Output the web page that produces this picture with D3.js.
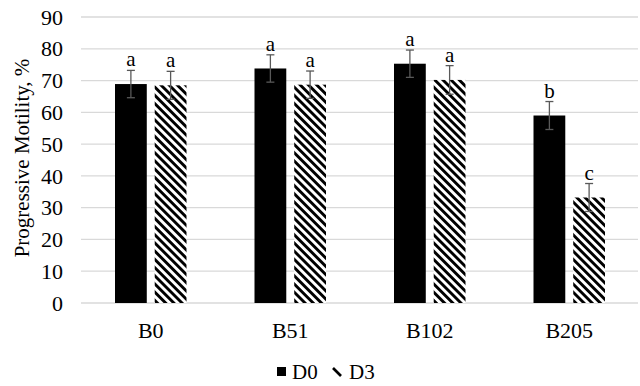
<!DOCTYPE html>
<html>
<head>
<meta charset="utf-8">
<script src="https://cdn.jsdelivr.net/npm/d3@7"></script>
<style>
    body { margin: 0; background: #fff; }
    text { font-family: "Liberation Serif", "Times New Roman", serif; fill: #000; }
</style>
</head>
<body>
<div id="chart"></div>
<script>
const categories = ["B0", "B51", "B102", "B205"];
const seriesNames = ["D0", "D3"];
const d0Values = [68.9, 73.8, 75.3, 59.0];
const d3Values = [68.5, 68.7, 70.2, 33.2];
const d0Errors = [4.3, 4.3, 4.3, 4.4];
const d3Errors = [4.4, 4.3, 4.5, 4.4];
const d0Letters = ["a", "a", "a", "b"];
const d3Letters = ["a", "a", "a", "c"];
const yTicks = [0, 10, 20, 30, 40, 50, 60, 70, 80, 90];

const WIDTH = 640;
const HEIGHT = 386;
const MARGINS = { top: 17, right: 1, bottom: 83, left: 81 };

const svg = d3.select("#chart").append("svg")
    .attr("width", WIDTH)
    .attr("height", HEIGHT);

// Hatch pattern for D3
const defs = svg.append("defs");
defs.append("pattern")
    .attr("id", "hatch")
    .attr("patternUnits", "userSpaceOnUse")
    .attr("width", 5.8)
    .attr("height", 5.8)
    .attr("patternTransform", "rotate(-45)")
    .call(p => p.append("rect").attr("width", 5.8).attr("height", 5.8).attr("fill", "#fff"))
    .call(p => p.append("rect").attr("width", 2.9).attr("height", 5.8).attr("fill", "#000"));

const xScale = d3.scaleBand()
    .domain(categories)
    .range([MARGINS.left, WIDTH - MARGINS.right])
    .paddingInner(0)
    .paddingOuter(0);

const xSub = d3.scaleBand()
    .domain(seriesNames)
    .range([34, xScale.bandwidth() - 34])
    .paddingInner(0.2);

const yScale = d3.scaleLinear()
    .domain([0, 90])
    .range([HEIGHT - MARGINS.bottom, MARGINS.top]);

// Grid lines
svg.append("g")
    .selectAll("line")
    .data(yTicks)
    .join("line")
    .attr("x1", MARGINS.left)
    .attr("x2", WIDTH - MARGINS.right - 1)
    .attr("y1", d => yScale(d))
    .attr("y2", d => yScale(d))
    .style("stroke", "#d9d9d9")
    .style("stroke-width", 1.3);

// Y tick labels
svg.append("g")
    .selectAll("text")
    .data(yTicks)
    .join("text")
    .attr("x", 63)
    .attr("y", d => yScale(d))
    .attr("dy", "0.35em")
    .attr("text-anchor", "end")
    .style("font-size", "22px")
    .text(d => d);

// Y axis title
svg.append("text")
    .attr("transform", "rotate(-90)")
    .attr("x", -158)
    .attr("y", 29)
    .attr("text-anchor", "middle")
    .style("font-size", "21px")
    .text("Progressive Motility, %");

// Category labels
svg.append("g")
    .selectAll("text")
    .data(categories)
    .join("text")
    .attr("x", d => xScale(d) + xScale.bandwidth() / 2)
    .attr("y", 338)
    .attr("text-anchor", "middle")
    .style("font-size", "22px")
    .text(d => d);

const data = categories.map((c, i) => [
    { cat: c, s: "D0", v: d0Values[i], e: d0Errors[i], l: d0Letters[i] },
    { cat: c, s: "D3", v: d3Values[i], e: d3Errors[i], l: d3Letters[i] }
]).flat();

// Bars
svg.append("g")
    .selectAll("rect")
    .data(data)
    .join("rect")
    .attr("x", d => xScale(d.cat) + xSub(d.s))
    .attr("width", xSub.bandwidth())
    .attr("y", d => yScale(d.v))
    .attr("height", d => yScale(0) - yScale(d.v))
    .attr("fill", d => d.s === "D0" ? "#000" : "url(#hatch)");

// Error bars
const eb = svg.append("g").style("stroke", "#595959").style("stroke-width", 1.3);
data.forEach(d => {
    const cx = xScale(d.cat) + xSub(d.s) + xSub.bandwidth() / 2;
    eb.append("line")
        .attr("x1", cx).attr("x2", cx)
        .attr("y1", yScale(d.v + d.e)).attr("y2", yScale(d.v - d.e));
    [d.v + d.e, d.v - d.e].forEach(y => {
        eb.append("line")
            .attr("x1", cx - 4).attr("x2", cx + 4)
            .attr("y1", yScale(y)).attr("y2", yScale(y));
    });
});

// Letters
svg.append("g")
    .selectAll("text")
    .data(data)
    .join("text")
    .attr("x", d => xScale(d.cat) + xSub(d.s) + xSub.bandwidth() / 2)
    .attr("y", d => yScale(d.v + d.e) - 4)
    .attr("text-anchor", "middle")
    .style("font-size", "21px")
    .text(d => d.l);

// Legend
const legend = svg.append("g");
legend.append("rect")
    .attr("x", 277).attr("y", 367).attr("width", 9).attr("height", 9)
    .attr("fill", "#000");
legend.append("text")
    .attr("x", 292).attr("y", 379)
    .style("font-size", "21px")
    .text(seriesNames[0]);
legend.append("line")
    .attr("x1", 333).attr("y1", 368).attr("x2", 341).attr("y2", 376)
    .style("stroke", "#000").style("stroke-width", 2.6);
legend.append("text")
    .attr("x", 349).attr("y", 379)
    .style("font-size", "21px")
    .text(seriesNames[1]);
</script>
</body>
</html>
